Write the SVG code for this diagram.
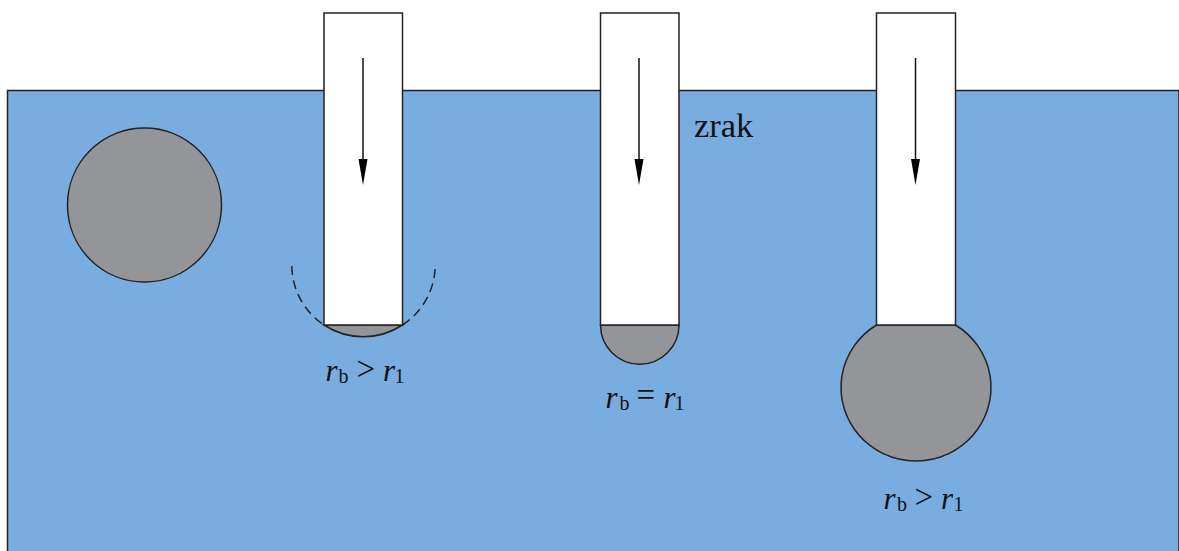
<svg xmlns="http://www.w3.org/2000/svg" width="1179" height="551" viewBox="0 0 1179 551">
<style>
.o{stroke:#222;stroke-width:1.5}
.g{fill:#939598}
.t{fill:#fff}
.a{stroke:#111;stroke-width:1.5;fill:none}
.h{fill:#000}
text{font-family:"Liberation Serif","Times New Roman",serif;fill:#111}
.i{font-style:italic;font-size:31px}
.s{font-size:20px}
.p{font-size:33px}
</style>
<rect width="1179" height="551" fill="#fff"/>
<g id="water"><path d="M7.5 551V90.5H1179V551" fill="#7aaddf" class="o"/></g>
<g id="particle"><circle class="o g" cx="144.500" cy="205" r="77"/></g>
<g id="tube-1">
<path class="o" d="M291.800 266A71.700 71.700 0 0 0 324 325M402.500 325A71.700 71.700 0 0 0 435.200 266" fill="none" stroke-dasharray="9 5.500"/>
<path class="o g" d="M324 325A71.700 71.700 0 0 0 402.500 325Z"/>
<rect class="o t" x="324" y="13" width="78.500" height="312"/>
<text><tspan class="i" x="325.500" y="381">r</tspan><tspan class="s" x="338.500" y="382.500">b</tspan><tspan class="p" x="356.500" y="379.500">&gt;</tspan><tspan class="i" x="383" y="381">r</tspan><tspan class="s" x="394.500" y="382.500">1</tspan></text>
</g>
<g id="tube-2">
<path class="o g" d="M600.500 325A39.250 39.250 0 0 0 679 325Z"/>
<rect class="o t" x="600.500" y="13" width="78.500" height="312"/>
<text><tspan class="i" x="605.500" y="408">r</tspan><tspan class="s" x="619.500" y="409.500">b</tspan><tspan class="p" x="636.500" y="406">=</tspan><tspan class="i" x="663.500" y="408">r</tspan><tspan class="s" x="674.500" y="409.500">1</tspan></text>
<text x="694" y="137" font-size="34.500">zrak</text>
</g>
<g id="tube-3">
<path class="o g" d="M876.500 325A75 73.500 0 1 0 955.500 325Z"/>
<rect class="o t" x="876.500" y="13" width="79" height="312"/>
<text><tspan class="i" x="883.500" y="509">r</tspan><tspan class="s" x="897" y="510.500">b</tspan><tspan class="p" x="914.500" y="507.500">&gt;</tspan><tspan class="i" x="941" y="509">r</tspan><tspan class="s" x="953.500" y="510.500">1</tspan></text>
</g>
<g id="connectors">
<path class="a" d="M363 58V162"/><path class="h" d="M358.500 159H367.500L363 185Z"/>
<path class="a" d="M639 58V162"/><path class="h" d="M634.500 159H643.500L639 185Z"/>
<path class="a" d="M915.500 58V162"/><path class="h" d="M911 159H920L915.500 185Z"/>
</g>
</svg>
